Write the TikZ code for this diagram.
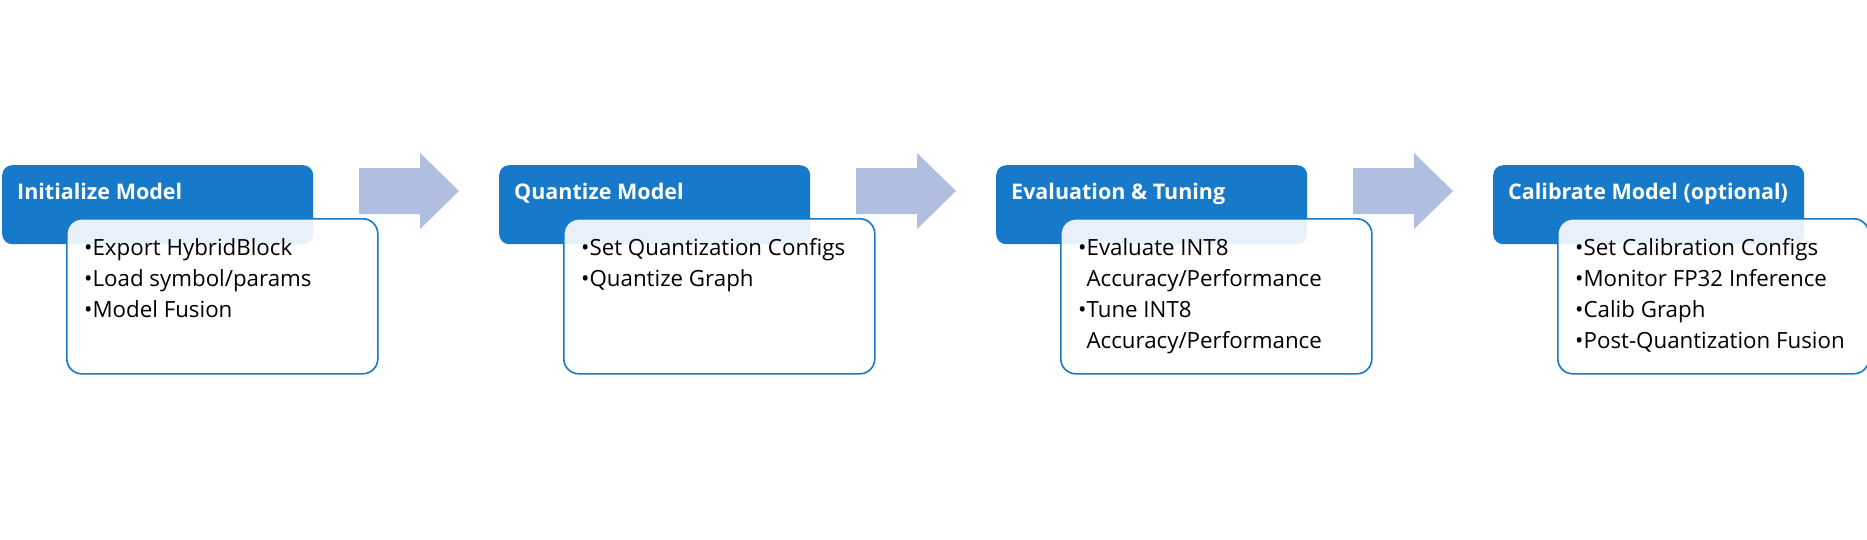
\documentclass[tikz,border=0pt]{standalone}
\usepackage{fontspec}
\setmainfont{Open Sans}
\usetikzlibrary{calc}
\definecolor{hblue}{HTML}{1679C9}
\definecolor{arrcol}{HTML}{B0BEDF}
\begin{document}
\begin{tikzpicture}[x=1pt,y=-1pt,
  headbox/.style={fill=hblue, rounded corners=10pt, minimum width=311pt, minimum height=79pt, anchor=north west, inner sep=0pt},
  bodybox/.style={draw=hblue, line width=1.6pt, fill=white, fill opacity=0.9, rounded corners=15pt, minimum width=311pt, minimum height=155pt, anchor=north west, inner sep=0pt},
  headtext/.style={text=white, font=\bfseries\fontsize{21.5}{25}\selectfont, anchor=base west, inner sep=0pt},
  bodytext/.style={font=\fontsize{22.3}{31}\selectfont, anchor=north west, align=left, inner sep=0pt},
  flowarrow/.style={fill=arrcol}
]
\useasboundingbox (0,0) rectangle (1867,539);
\newcommand{\flowarr}[1]{%
  \fill[flowarrow] (#1+359,168) -- (#1+420,168) -- (#1+420,153) -- (#1+459,191) -- (#1+420,229) -- (#1+420,214) -- (#1+359,214) -- cycle;}
% block 1
\node[headbox] (h1) at (2,165) {};
\node[headtext] (t1) at ($(h1.north west)+(15,34)$) {Initialize Model};
\node[bodybox] (b1) at (66,218) {};
\node[bodytext] (l1) at (84,238.5) {•Export HybridBlock\\•Load symbol/params\\•Model Fusion};
% block 2
\node[headbox] (h2) at (499,165) {};
\node[headtext] (t2) at ($(h2.north west)+(15,34)$) {Quantize Model};
\node[bodybox] (b2) at (563,218) {};
\node[bodytext] (l2) at (581,238.5) {•Set Quantization Configs\\•Quantize Graph};
% block 3
\node[headbox] (h3) at (996,165) {};
\node[headtext] (t3) at ($(h3.north west)+(15,34)$) {Evaluation \& Tuning};
\node[bodybox] (b3) at (1060,218) {};
\node[bodytext] (l3) at (1078,238.5) {•Evaluate INT8\\\phantom{•}Accuracy/Performance\\•Tune INT8\\\phantom{•}Accuracy/Performance};
% block 4
\node[headbox] (h4) at (1493,165) {};
\node[headtext] (t4) at ($(h4.north west)+(15,34)$) {Calibrate Model (optional)};
\node[bodybox] (b4) at (1557,218) {};
\node[bodytext] (l4) at (1575,238.5) {•Set Calibration Configs\\•Monitor FP32 Inference\\•Calib Graph\\•Post-Quantization Fusion};
% arrows
\flowarr{0}
\flowarr{497}
\flowarr{994}
\end{tikzpicture}
\end{document}
